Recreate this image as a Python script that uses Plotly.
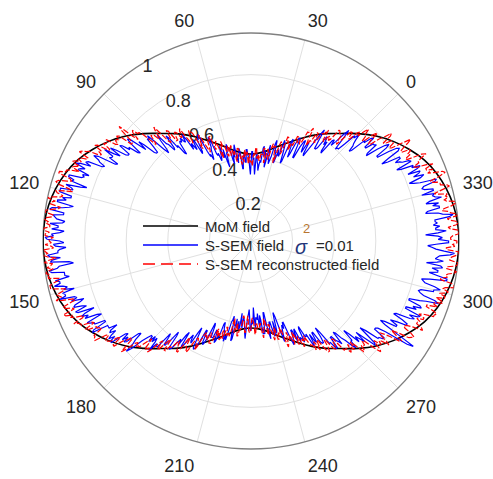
import plotly.graph_objects as go

# ---- data -------------------------------------------------------------
# angle labels shown on the angular axis (degrees)
angle_ticks = [0, 30, 60, 90, 120, 150, 180, 210, 240, 270, 300, 330]
radial_ticks = [0.2, 0.4, 0.6, 0.8, 1.0]
radial_labels = ["0.2", "0.4", "0.6", "0.8", "1"]

# MoM field, sampled every 5 degrees (0 ... 355)
mom_theta = list(range(0, 360, 5))
mom_field = [
    0.730, 0.675, 0.630, 0.585, 0.540, 0.500, 0.468, 0.440, 0.424, 0.418,
    0.424, 0.440, 0.468, 0.500, 0.540, 0.585, 0.630, 0.675, 0.730, 0.785,
    0.835, 0.880, 0.920, 0.950, 0.972, 0.988, 0.997, 1.000, 0.997, 0.988,
    0.972, 0.950, 0.920, 0.880, 0.835, 0.785,
    0.730, 0.675, 0.630, 0.585, 0.540, 0.500, 0.468, 0.440, 0.424, 0.418,
    0.424, 0.440, 0.468, 0.500, 0.540, 0.585, 0.630, 0.675, 0.730, 0.785,
    0.835, 0.880, 0.920, 0.950, 0.972, 0.988, 0.997, 1.000, 0.997, 0.988,
    0.972, 0.950, 0.920, 0.880, 0.835, 0.785,
]

# S-SEM fields, sampled every half degree (0 ... 359.5), 20 samples per row
ssem_theta = [0.5 * i for i in range(720)]
ssem_field = [
    .70, .71, .65, .61, .61, .60, .66, .71, .68, .63, .60, .63, .62, .54, .55, .60, .58, .61, .62, .55,
    .54, .54, .58, .64, .61, .56, .52, .48, .49, .55, .54, .49, .51, .55, .54, .51, .45, .45, .51, .55,
    .54, .51, .46, .44, .49, .53, .51, .48, .41, .40, .45, .49, .50, .51, .43, .43, .46, .42, .39, .45,
    .45, .50, .48, .42, .40, .38, .41, .47, .44, .39, .36, .42, .44, .41, .46, .45, .38, .39, .37, .34,
    .37, .38, .42, .41, .32, .35, .40, .39, .43, .43, .37, .32, .35, .40, .41, .44, .44, .38, .38, .42,
    .41, .39, .35, .35, .43, .45, .41, .42, .38, .40, .47, .45, .41, .44, .38, .40, .45, .45, .46, .48,
    .44, .44, .37, .40, .46, .42, .43, .48, .45, .42, .41, .45, .44, .45, .53, .54, .49, .48, .45, .43,
    .46, .45, .48, .57, .57, .55, .55, .49, .48, .55, .56, .51, .53, .55, .52, .58, .61, .57, .58, .60,
    .58, .59, .58, .52, .53, .58, .57, .63, .65, .58, .57, .61, .62, .68, .65, .60, .58, .61, .66, .71,
    .69, .70, .65, .62, .62, .63, .69, .72, .67, .71, .76, .77, .74, .68, .69, .74, .73, .77, .78, .72,
    .72, .73, .78, .81, .75, .78, .83, .78, .78, .79, .74, .75, .84, .86, .83, .82, .79, .80, .87, .88,
    .85, .90, .92, .87, .89, .90, .84, .87, .86, .87, .93, .93, .90, .91, .83, .86, .93, .90, .89, .95,
    .95, .95, .89, .89, .93, .91, .95, .95, .87, .89, .92, .97, .98, .91, .91, .96, .95, .94, .90, .91,
    .97, .93, .93, .96, .90, .92, .96, .95, .99, .98, .92, .90, .95, .94, .89, .92, .93, .93, .98, .97,
    .92, .96, .97, .88, .86, .93, .94, .98, .97, .91, .91, .91, .89, .96, .94, .94, .97, .93, .91, .93,
    .88, .94, .93, .93, .96, .89, .88, .91, .85, .87, .90, .91, .87, .85, .91, .90, .82, .87, .89, .86,
    .88, .82, .80, .88, .87, .85, .85, .80, .80, .87, .88, .80, .80, .80, .76, .80, .81, .78, .81, .83,
    .80, .83, .83, .75, .74, .78, .75, .78, .77, .70, .69, .73, .75, .80, .77, .71, .68, .66, .66, .69,
    .65, .68, .65, .67, .72, .67, .68, .68, .59, .61, .65, .65, .61, .56, .58, .65, .65, .64, .60, .58,
    .61, .55, .53, .61, .60, .57, .55, .53, .56, .57, .51, .48, .52, .58, .59, .58, .54, .48, .48, .54,
    .55, .53, .49, .43, .44, .50, .50, .50, .46, .46, .52, .51, .48, .49, .42, .41, .44, .45, .47, .50,
    .47, .49, .45, .40, .39, .37, .41, .49, .48, .42, .38, .42, .42, .39, .43, .42, .35, .40, .42, .37,
    .38, .39, .44, .47, .41, .37, .35, .33, .37, .43, .43, .38, .40, .38, .32, .38, .42, .37, .37, .38,
    .35, .40, .42, .36, .38, .45, .45, .45, .40, .35, .35, .41, .45, .48, .43, .40, .40, .43, .47, .47,
    .40, .46, .45, .39, .36, .38, .45, .51, .48, .45, .43, .45, .42, .42, .49, .54, .52, .51, .47, .47,
    .53, .48, .47, .54, .52, .53, .55, .48, .47, .53, .53, .52, .59, .58, .53, .57, .58, .53, .53, .59,
    .60, .60, .57, .52, .55, .62, .62, .66, .66, .60, .60, .63, .64, .66, .59, .60, .64, .66, .70, .72,
    .68, .68, .62, .65, .71, .68, .70, .73, .67, .72, .78, .77, .72, .67, .70, .77, .77, .79, .79, .73,
    .73, .74, .78, .90, .93, .84, .76, .73, .75, .81, .81, .77, .80, .85, .85, .82, .77, .78, .85, .87,
    .84, .88, .89, .81, .81, .86, .84, .88, .87, .81, .81, .86, .89, .95, .93, .87, .85, .84, .85, .91,
    .91, .94, .91, .86, .85, .84, .88, .96, .96, .91, .87, .91, .91, .88, .93, .92, .85, .90, .93, .89,
    .90, .91, .96, .98, .93, .89, .87, .85, .89, .95, .95, .90, .92, .90, .84, .90, .94, .89, .89, .91,
    .88, .90, .89, .89, .96, .98, .93, .91, .85, .86, .92, .92, .89, .92, .86, .88, .94, .91, .90, .91,
    .85, .91, .91, .87, .86, .87, .93, .94, .86, .83, .81, .87, .89, .84, .87, .88, .82, .87, .89, .85,
    .86, .80, .78, .86, .85, .82, .81, .79, .82, .82, .76, .73, .77, .83, .84, .83, .79, .73, .73, .79,
    .81, .79, .75, .69, .70, .76, .75, .75, .71, .71, .77, .76, .72, .73, .65, .64, .67, .68, .70, .73,
]
reconstructed_field = [
    .74, .73, .68, .68, .72, .71, .67, .62, .63, .67, .67, .67, .68, .68, .62, .61, .63, .62, .59, .60,
    .65, .63, .62, .62, .57, .56, .61, .61, .56, .56, .53, .56, .62, .60, .59, .59, .53, .52, .54, .54,
    .52, .55, .55, .50, .51, .51, .47, .50, .51, .50, .53, .53, .46, .44, .46, .49, .50, .48, .42, .39,
    .42, .47, .47, .46, .48, .46, .42, .40, .44, .45, .42, .39, .38, .45, .45, .42, .42, .42, .39, .39,
    .42, .40, .40, .45, .45, .41, .42, .41, .36, .38, .38, .38, .42, .39, .37, .43, .42, .41, .44, .42,
    .38, .41, .41, .37, .39, .44, .45, .45, .43, .39, .39, .44, .42, .43, .47, .46, .42, .47, .47, .42,
    .43, .47, .47, .47, .50, .48, .43, .42, .47, .51, .50, .48, .47, .54, .54, .52, .53, .52, .49, .47,
    .49, .52, .56, .57, .53, .50, .53, .59, .60, .61, .59, .55, .55, .56, .59, .64, .63, .60, .60, .63,
    .64, .63, .60, .60, .66, .67, .63, .63, .61, .62, .67, .72, .70, .66, .66, .69, .69, .70, .67, .65,
    .69, .74, .75, .75, .78, .77, .73, .76, .84, .82, .76, .74, .74, .81, .82, .80, .81, .81, .79, .80,
    .85, .84, .84, .85, .81, .81, .87, .88, .84, .85, .83, .84, .89, .90, .92, .93, .88, .88, .91, .92,
    .90, .93, .94, .90, .92, .93, .89, .93, .95, .95, .98, .98, .92, .91, .93, .97, .98, .97, .91, .89,
    .93, .97, .96, .93, .94, .98, 1.0, .96, .98, .98, .93, .94, .97, 1.0, 1.0, .96, .96, .99, 1.0, .98,
    .99, .97, .97, 1.0, 1.0, .97, .99, .99, .95, .97, .97, .96, .99, .96, .95, 1.0, .99, .98, 1.0, .98,
    .94, .98, 1.0, .96, .97, .99, .96, .99, 1.0, .98, .99, .99, .94, .94, .97, .99, .99, .99, .95, .92,
    .94, .97, .96, .95, .98, .95, .90, .89, .93, .96, .95, .92, .91, .97, .96, .93, .94, .92, .88, .89,
    .94, .92, .91, .91, .86, .85, .90, .90, .85, .85, .83, .84, .88, .88, .89, .89, .83, .82, .84, .85,
    .84, .83, .79, .78, .83, .83, .78, .77, .74, .74, .78, .82, .79, .74, .73, .75, .74, .74, .70, .67,
    .69, .73, .72, .71, .73, .71, .66, .64, .68, .69, .65, .62, .61, .67, .67, .64, .64, .63, .60, .59,
    .61, .62, .64, .64, .60, .55, .56, .60, .60, .62, .61, .56, .54, .53, .54, .59, .57, .51, .49, .51,
    .50, .52, .52, .48, .49, .53, .53, .53, .50, .46, .45, .49, .47, .47, .50, .49, .45, .49, .48, .43,
    .43, .47, .46, .45, .47, .45, .40, .38, .42, .45, .44, .41, .40, .46, .46, .43, .43, .42, .38, .36,
    .37, .40, .44, .44, .40, .36, .38, .43, .44, .44, .42, .38, .37, .38, .40, .45, .44, .40, .40, .42,
    .42, .42, .40, .40, .45, .47, .44, .42, .38, .38, .41, .46, .45, .41, .41, .44, .45, .49, .48, .43,
    .44, .49, .49, .46, .47, .47, .44, .44, .50, .54, .53, .49, .47, .51, .49, .50, .54, .52, .48, .50,
    .55, .52, .51, .56, .57, .53, .54, .55, .52, .56, .58, .58, .61, .58, .57, .62, .60, .57, .58, .63,
    .65, .65, .63, .59, .60, .65, .66, .66, .63, .61, .62, .69, .69, .69, .72, .71, .68, .72, .71, .68,
    .71, .76, .76, .73, .74, .74, .72, .72, .78, .82, .81, .78, .76, .80, .78, .79, .83, .81, .77, .76,
    .78, .81, .86, .87, .83, .80, .83, .89, .90, .91, .89, .85, .84, .85, .88, .93, .92, .89, .89, .90,
    .88, .91, .91, .88, .90, .95, .95, .96, .94, .90, .90, .95, .93, .93, .97, .96, .93, .97, .97, .94,
    .97, .98, .95, .96, 1.0, 1.0, .99, .93, .93, .96, .95, .96, .99, 1.0, .95, .95, .99, 1.0, 1.0, .96,
    .96, .97, .99, 1.0, 1.0, .94, .94, .98, .97, .99, .99, .96, .96, .97, 1.0, 1.0, 1.0, .96, .95, .99,
    1.0, .99, .96, .95, 1.0, 1.0, .97, .96, .93, .94, .98, 1.0, 1.0, .96, .95, .97, .96, .97, .93, .91,
    .95, .99, .98, .95, .95, .94, .91, .91, .96, .99, .98, .94, .91, .94, .91, .91, .95, .92, .87, .86,
    .89, .89, .91, .94, .92, .85, .84, .87, .86, .88, .88, .84, .84, .86, .89, .91, .86, .81, .80, .83,
    .83, .83, .80, .79, .84, .85, .81, .79, .74, .73, .75, .80, .78, .73, .72, .75, .75, .78, .76, .72,
]

series_names = ["MoM field", "S-SEM field", "S-SEM reconstructed field"]
series_colors = ["#000000", "#0000ff", "#ff0000"]

# ---- figure -----------------------------------------------------------
W, H = 493, 479
FONT = "Liberation Sans, Arial, Helvetica, sans-serif"
RADIAL_ANGLE = 124


def closed(values):
    return list(values) + [values[0]]


fig = go.Figure()
fig.add_trace(go.Scatterpolar(
    r=closed(mom_field), theta=closed(mom_theta), mode="lines",
    line=dict(color=series_colors[0], width=1.6, shape="spline", smoothing=1),
    name=series_names[0], showlegend=False))
fig.add_trace(go.Scatterpolar(
    r=closed(ssem_field), theta=closed(ssem_theta), mode="lines",
    line=dict(color=series_colors[1], width=1.2),
    name=series_names[1], showlegend=False))
fig.add_trace(go.Scatterpolar(
    r=closed(reconstructed_field), theta=closed(ssem_theta), mode="lines",
    line=dict(color=series_colors[2], width=1.2, dash="6px,2px"),
    name=series_names[2], showlegend=False))

# polar area: centre (251, 241) px, radius 208 px
cx, cy, R = 251, 241, 208
fig.update_layout(
    width=W, height=H,
    margin=dict(l=0, r=0, t=0, b=0),
    paper_bgcolor="white",
    font=dict(family=FONT, color="#262626"),
    polar=dict(
        domain=dict(x=[(cx - R) / W, (cx + R) / W],
                    y=[(H - cy - R) / H, (H - cy + R) / H]),
        bgcolor="white",
        angularaxis=dict(
            direction="counterclockwise", rotation=45,
            tickmode="array", tickvals=angle_ticks,
            ticktext=[str(a) for a in angle_ticks],
            ticks="outside", ticklen=7, tickcolor="rgba(0,0,0,0)",
            showgrid=True, gridcolor="#e0e0e0", gridwidth=1,
            showline=True, linecolor="#808080", linewidth=1.3,
            tickfont=dict(size=18, color="#262626"),
            layer="below traces"),
        radialaxis=dict(
            range=[0, 1], tickmode="array", tickvals=radial_ticks,
            ticktext=radial_labels, angle=RADIAL_ANGLE,
            tickangle=RADIAL_ANGLE,
            showline=False, ticks="", showgrid=True,
            gridcolor="#e0e0e0", gridwidth=1,
            tickfont=dict(size=18, color="#262626"),
            layer="below traces"),
    ),
)

# legend drawn as line samples and labels
rows_y = [226, 245, 264]
x0, x1, xt = 143, 198, 203
dashes = ["solid", "solid", "12px,6px"]
for name, color, dash, y in zip(series_names, series_colors, dashes, rows_y):
    fig.add_shape(type="line", xref="paper", yref="paper",
                  x0=x0 / W, x1=x1 / W, y0=1 - y / H, y1=1 - y / H,
                  line=dict(color=color, width=1.4, dash=dash))
    fig.add_annotation(xref="paper", yref="paper", x=xt / W, y=1 - y / H,
                       xanchor="left", yanchor="middle", showarrow=False,
                       text=name, font=dict(size=15, color="#262626"))

# noise variance note next to the S-SEM entry
fig.add_annotation(xref="paper", yref="paper", x=301 / W, y=1 - 247 / H,
                   xanchor="center", yanchor="middle", showarrow=False,
                   text="<i>σ</i>", font=dict(size=20, color="#23357a"))
fig.add_annotation(xref="paper", yref="paper", x=306 / W, y=1 - 229 / H,
                   xanchor="center", yanchor="middle", showarrow=False,
                   text="2", font=dict(size=13, color="#b87530"))
fig.add_annotation(xref="paper", yref="paper", x=314 / W, y=1 - 245 / H,
                   xanchor="left", yanchor="middle", showarrow=False,
                   text="=0.01", font=dict(size=15, color="#262626"))

fig.write_html("out.html")
